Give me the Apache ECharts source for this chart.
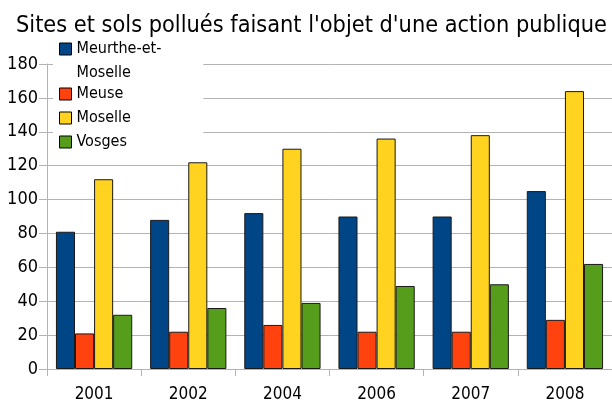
<!DOCTYPE html>
<html>
<head>
<meta charset="utf-8">
<script src="https://cdn.jsdelivr.net/npm/echarts@6/dist/echarts.min.js"></script>
<style>
  html, body { margin: 0; padding: 0; background: #fff; }
  #main { width: 612px; height: 403px; }
</style>
</head>
<body>
<div id="main"></div>
<script>
var years = ['2001', '2002', '2004', '2006', '2007', '2008'];
var meurthe = [81, 88, 92, 90, 90, 105];
var meuse = [21, 22, 26, 22, 22, 29];
var moselle = [112, 122, 130, 136, 138, 164];
var vosges = [32, 36, 39, 49, 50, 62];

var font = '"DejaVu Sans Condensed", "DejaVu Sans"';

function bar(name, data, color) {
    return {
        name: name,
        type: 'bar',
        data: data,
        barGap: '0%',
        barCategoryGap: '19%',
        itemStyle: {
            color: color,
            borderColor: '#1a1a1a',
            borderWidth: 1
        }
    };
}

var option = {
    animation: false,
    backgroundColor: '#fff',
    title: {
        text: "Sites et sols pollués faisant l'objet d'une action publique",
        left: 16,
        top: 14,
        padding: 0,
        textStyle: {
            fontFamily: font,
            fontSize: 23.3,
            fontWeight: 'normal',
            color: '#000',
            lineHeight: 24
        }
    },
    legend: {
        orient: 'vertical',
        left: 53,
        top: 13,
        padding: [0, 42, 4, 6],
        itemGap: -6,
        itemWidth: 12,
        itemHeight: 12,
        backgroundColor: '#fff',
        icon: 'rect',
        itemStyle: { borderColor: '#000', borderWidth: 1 },
        textStyle: { fontFamily: font, fontSize: 16, color: '#000', lineHeight: 30 },
        formatter: function(name) {
            // two-line label, first line level with the swatch
            return name === 'Meurthe-et-Moselle' ? '\nMeurthe-et-\nMoselle' : name;
        },
        data: [
            { name: 'Meurthe-et-Moselle', textStyle: { lineHeight: 24 } },
            'Meuse',
            'Moselle',
            'Vosges'
        ]
    },
    grid: {
        left: 47,
        right: -1,
        top: 64,
        bottom: 31,
        containLabel: false
    },
    xAxis: {
        type: 'category',
        data: years,
        axisLine: { lineStyle: { color: '#b3b3b3', width: 1 } },
        axisTick: { show: true, length: 7, lineStyle: { color: '#b3b3b3' } },
        axisLabel: { fontFamily: font, fontSize: 17, color: '#000', margin: 17 }
    },
    yAxis: {
        type: 'value',
        min: 0,
        max: 180,
        interval: 20,
        axisLine: { show: true, lineStyle: { color: '#b3b3b3', width: 1 } },
        axisTick: { show: true, length: 8, lineStyle: { color: '#b3b3b3' } },
        axisLabel: { fontFamily: font, fontSize: 18, color: '#000', margin: 9 },
        splitLine: { lineStyle: { color: '#b3b3b3', width: 1 } }
    },
    series: [
        bar('Meurthe-et-Moselle', meurthe, '#004586'),
        bar('Meuse', meuse, '#ff420e'),
        bar('Moselle', moselle, '#ffd320'),
        bar('Vosges', vosges, '#579d1c')
    ]
};

var myChart = echarts.init(document.getElementById('main'));
myChart.setOption(option);
</script>
</body>
</html>
